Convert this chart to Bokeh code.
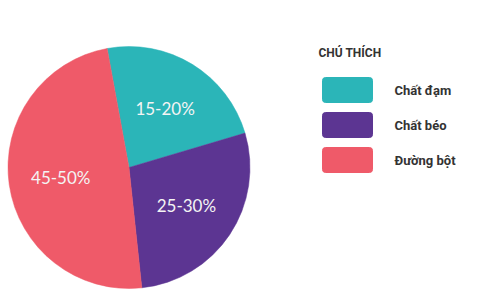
import math
from bokeh.plotting import figure
from bokeh.models import Range1d, ColumnDataSource
from bokeh.core.properties import value
from bokeh.embed import file_html
from bokeh.resources import INLINE

# ---- data ----
categories = ["Chất đạm", "Chất béo", "Đường bột"]
shares = [23.3, 27.9, 48.8]
slice_labels = ["15-20%", "25-30%", "45-50%"]
colors = ["#2BB5B8", "#5C3592", "#EF5A69"]
legend_title = "CHÚ THÍCH"

W, H = 500, 305
p = figure(width=W, height=H, x_range=Range1d(0, W), y_range=Range1d(0, H),
           output_backend="svg", toolbar_location=None, min_border=0)
p.axis.visible = False
p.grid.visible = False
p.outline_line_color = None
p.background_fill_color = "white"
p.border_fill_color = "white"

# pie geometry (pixel space, y flipped)
cx, cy, r = 128.5, H - 167, 121
a = math.radians(100.4)
total = sum(shares)
starts, ends, lx, ly = [], [], [], []
for s in shares:
    sweep = 2 * math.pi * s / total
    starts.append(a)
    ends.append(a - sweep)
    m = a - sweep / 2
    lx.append(cx + 0.57 * r * math.cos(m))
    ly.append(cy + 0.57 * r * math.sin(m))
    a -= sweep

src = ColumnDataSource(dict(start=starts, end=ends, color=colors,
                            lx=lx, ly=ly, label=slice_labels))
p.wedge(x=cx, y=cy, radius=r, start_angle="start", end_angle="end",
        direction="clock", fill_color="color", line_color="color",
        line_width=0.5, source=src)
p.text(x="lx", y="ly", text="label", source=src, text_color="#F4F4F4",
       text_font=value("Lato"), text_font_size="17px",
       text_align="center", text_baseline="middle")

# legend
n = len(categories)
tops = [H - (77 + 35 * i) for i in range(n)]
bottoms = [t - 25 for t in tops]
mids = [t - 12.5 for t in tops]
lsrc = ColumnDataSource(dict(top=tops, bottom=bottoms, mid=mids,
                             color=colors, name=categories))
p.quad(left=322, right=372, top="top", bottom="bottom", fill_color="color",
       line_color="color", border_radius=3, source=lsrc)
p.text(x=394, y="mid", text="name", source=lsrc, text_color="#333333",
       text_font=value("Roboto"), text_font_size="13px", text_font_style="bold",
       text_align="left", text_baseline="middle")
p.text(x=[318], y=[H - 52.5], text=[legend_title], text_color="#333333",
       text_font=value("Roboto"), text_font_size="12px", text_font_style="bold",
       text_align="left", text_baseline="middle")

open("out.html", "w").write(file_html(p, INLINE))
